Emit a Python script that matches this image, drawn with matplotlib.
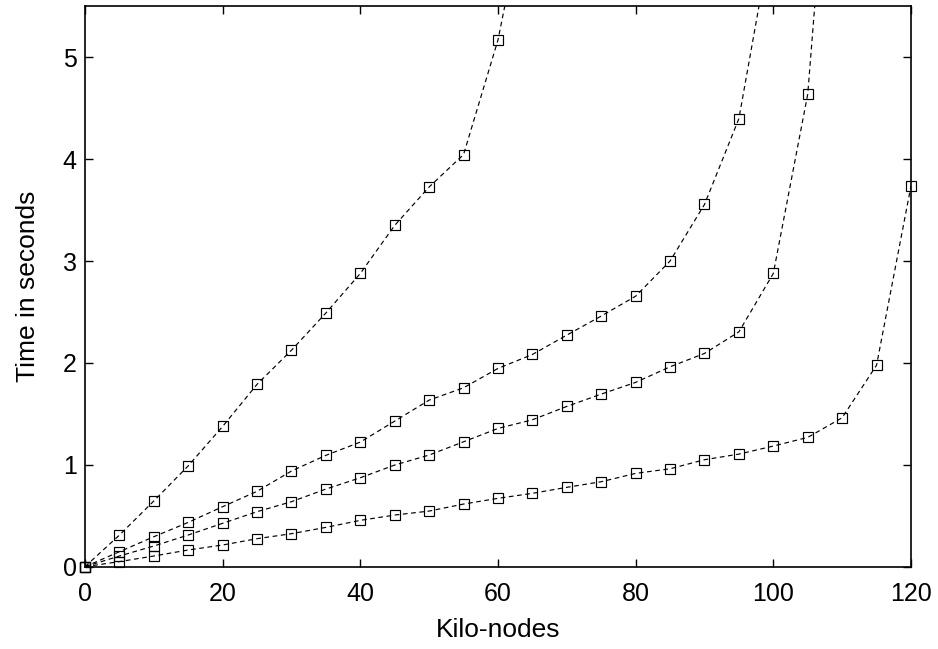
import matplotlib
matplotlib.use("Agg")
import matplotlib.pyplot as plt
import numpy as np

plt.rcParams['font.family'] = ['Liberation Sans', 'DejaVu Sans']

x_a = [0, 5, 10, 15, 20, 25, 30, 35, 40, 45, 50, 55, 60, 65]
y_a = [0, 0.31, 0.645, 0.99, 1.377, 1.79, 2.125, 2.49, 2.878, 3.35, 3.727, 4.045, 5.17, 6.85]

x_b = [0, 5, 10, 15, 20, 25, 30, 35, 40, 45, 50, 55, 60, 65, 70, 75, 80, 85, 90, 95, 100]
y_b = [0, 0.147, 0.294, 0.435, 0.589, 0.74, 0.939, 1.093, 1.223, 1.429, 1.635, 1.756,
       1.946, 2.083, 2.273, 2.46, 2.655, 3.0, 3.555, 4.398, 6.29]

x_c = [0, 5, 10, 15, 20, 25, 30, 35, 40, 45, 50, 55, 60, 65, 70, 75, 80, 85, 90, 95, 100, 105, 110]
y_c = [0, 0.105, 0.203, 0.311, 0.426, 0.54, 0.638, 0.762, 0.873, 0.998, 1.096, 1.226,
       1.357, 1.442, 1.573, 1.694, 1.809, 1.962, 2.093, 2.305, 2.878, 4.637, 8.9]

x_d = [0, 5, 10, 15, 20, 25, 30, 35, 40, 45, 50, 55, 60, 65, 70, 75, 80, 85, 90, 95,
       100, 105, 110, 115, 120]
y_d = [0, 0.05, 0.105, 0.164, 0.213, 0.275, 0.324, 0.386, 0.455, 0.507, 0.546, 0.615,
       0.671, 0.72, 0.779, 0.834, 0.916, 0.961, 1.05, 1.105, 1.184, 1.269, 1.462, 1.978, 3.737]

x_ticks = [0, 20, 40, 60, 80, 100, 120]
y_ticks = [0, 1, 2, 3, 4, 5]
y_max = 5.5

fig = plt.figure(figsize=(9.38, 6.49), dpi=100)
ax = fig.add_axes([0.0906, 0.1268, 0.8806, 0.8635])

for xs, ys in [(x_a, y_a), (x_b, y_b), (x_c, y_c), (x_d, y_d)]:
    ax.plot(xs, ys, color='black', lw=0.85, dashes=(4, 3), clip_on=True)
    xs_a = np.array(xs)
    ys_a = np.array(ys)
    m = ys_a <= y_max
    ax.plot(xs_a[m], ys_a[m], linestyle='none',
            marker='s', markersize=6.5, markerfacecolor='none',
            markeredgecolor='black', markeredgewidth=0.85, clip_on=False)

ax.set_xlim(0, 120)
ax.set_ylim(0, y_max)
ax.set_xticks(x_ticks)
ax.set_yticks(y_ticks)
ax.tick_params(direction='in', length=6, width=1, top=True, right=True,
               labelsize=18, colors='black')
ax.tick_params(axis='x', pad=11)
ax.tick_params(axis='y', pad=6)
for s in ax.spines.values():
    s.set_linewidth(1.2)

ax.set_xlabel('Kilo-nodes', fontsize=19, labelpad=9)
ax.set_ylabel('Time in seconds', fontsize=19, labelpad=16)

fig.savefig('out.png', dpi=100)
